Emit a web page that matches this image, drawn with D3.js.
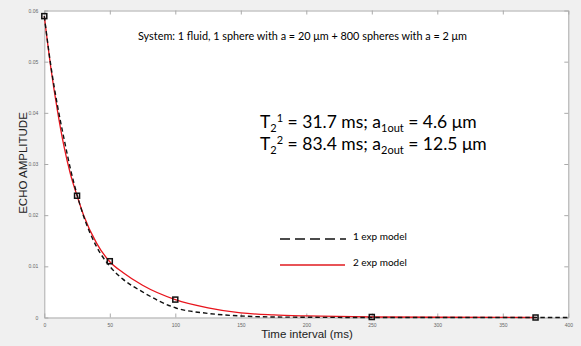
<!DOCTYPE html>
<html>
<head>
<meta charset="utf-8">
<script src="https://cdn.jsdelivr.net/npm/d3@7"></script>
<style>
  body { margin: 0; background: #f0f0f0; }
  svg { display: block; }
  .tick text { font-family: "Liberation Sans", Arial, sans-serif; font-size: 5px; fill: #666; }
  .tick line { stroke: #aaa; }
  .domain { stroke: #aaa; }
</style>
</head>
<body>
<svg id="chart" width="581" height="346"></svg>
<script>
// measured echo amplitudes
var sampleTimes = [0, 25, 50, 100, 250, 375];
var sampleAmps = [0.0589, 0.0238, 0.0110, 0.0035, 0.0001, 0.0000];

// 1 exp model curve
var oneExpTimes = [0, 5, 10, 15, 20, 25, 30, 40, 50, 60, 75, 100, 125, 150, 175, 200, 250, 300, 400];
var oneExpAmps = [0.0589, 0.0492, 0.0415, 0.0350, 0.0290, 0.0240, 0.0198, 0.0138, 0.0100, 0.0075, 0.0050, 0.0019, 0.0008, 0.0003, 0.0001, 0.00005, 0.0000, 0.0000, 0.0000];

// 2 exp model curve
var twoExpTimes = [0, 5, 10, 15, 20, 25, 30, 40, 50, 60, 75, 100, 125, 150, 175, 200, 250, 300, 375];
var twoExpAmps = [0.0589, 0.0488, 0.0405, 0.0335, 0.0280, 0.0238, 0.0200, 0.0145, 0.0109, 0.0088, 0.0063, 0.0035, 0.0019, 0.0009, 0.0005, 0.0003, 0.0001, 0.00005, 0.0000];

var xTicks = [0, 50, 100, 150, 200, 250, 300, 350, 400];
var yTicks = [0, 0.01, 0.02, 0.03, 0.04, 0.05, 0.06];
var yTickLabels = ["0", "0.01", "0.02", "0.03", "0.04", "0.05", "0.06"];

var svg = d3.select("#chart");
var plotLeft = 44.3, plotRight = 568.3, plotTop = 10.5, plotBottom = 317.5;

var x = d3.scaleLinear().domain([0, 400]).range([plotLeft, plotRight]);
var y = d3.scaleLinear().domain([0, 0.06]).range([plotBottom, plotTop]);

// white plot area
svg.append("rect")
    .attr("x", plotLeft).attr("y", plotTop)
    .attr("width", plotRight - plotLeft).attr("height", plotBottom - plotTop)
    .attr("fill", "#fff");

// axes with inward ticks on all four sides
svg.append("g").attr("transform", "translate(" + plotLeft + ",0)")
    .call(d3.axisLeft(y).tickValues(yTicks).tickFormat(function(d, i) { return yTickLabels[i]; })
      .tickSizeInner(-4).tickSizeOuter(0).tickPadding(6));
svg.append("g").attr("transform", "translate(" + plotRight + ",0)")
    .call(d3.axisRight(y).tickValues(yTicks).tickFormat("").tickSizeInner(-4).tickSizeOuter(0));
svg.append("g").attr("transform", "translate(0," + plotBottom + ")")
    .call(d3.axisBottom(x).tickValues(xTicks).tickFormat(d3.format("d"))
      .tickSizeInner(-4).tickSizeOuter(0).tickPadding(6));
svg.append("g").attr("transform", "translate(0," + plotTop + ")")
    .call(d3.axisTop(x).tickValues(xTicks).tickFormat("").tickSizeInner(-4).tickSizeOuter(0));

var line = d3.line()
    .x(function(d) { return x(d[0]); })
    .y(function(d) { return y(d[1]); })
    .curve(d3.curveMonotoneX);

var redData = d3.zip(twoExpTimes, twoExpAmps);
var blackData = d3.zip(oneExpTimes, oneExpAmps);

svg.append("path").datum(redData)
    .attr("d", line)
    .attr("fill", "none")
    .attr("stroke", "#e8141c")
    .attr("stroke-width", 1.3);

svg.append("path").datum(blackData)
    .attr("d", line)
    .attr("fill", "none")
    .attr("stroke", "#111")
    .attr("stroke-width", 1.4)
    .attr("stroke-dasharray", "4.5,3");

// sample squares
svg.selectAll(".pt").data(d3.zip(sampleTimes, sampleAmps)).enter()
  .append("rect")
    .attr("class", "pt")
    .attr("x", function(d) { return x(d[0]) - 2.5; })
    .attr("y", function(d) { return y(d[1]) - 2.5; })
    .attr("width", 5).attr("height", 5)
    .attr("fill", "none")
    .attr("stroke", "#111")
    .attr("stroke-width", 1.5);

// title
svg.append("text")
    .attr("x", 138).attr("y", 40)
    .attr("font-family", "Lato, 'Open Sans', sans-serif")
    .attr("font-size", 11.5)
    .attr("textLength", 329).attr("lengthAdjust", "spacingAndGlyphs")
    .text("System: 1 fluid, 1 sphere with a = 20 \u03bcm +  800 spheres with a = 2 \u03bcm");

// fit results
var res1 = svg.append("text")
    .attr("x", 260).attr("y", 128)
    .attr("font-family", "Lato, 'Open Sans', sans-serif")
    .attr("font-size", 17.5);
res1.append("tspan").text("T");
res1.append("tspan").attr("font-size", 11).attr("dy", 4).text("2");
res1.append("tspan").attr("font-size", 11).attr("dy", -10).text("1");
res1.append("tspan").attr("dy", 6).text(" = 31.7 ms; a");
res1.append("tspan").attr("font-size", 11).attr("dy", 4).text("1out");
res1.append("tspan").attr("dy", -4).text(" = 4.6 \u03bcm");

var res2 = svg.append("text")
    .attr("x", 260).attr("y", 150)
    .attr("font-family", "Lato, 'Open Sans', sans-serif")
    .attr("font-size", 17.5);
res2.append("tspan").text("T");
res2.append("tspan").attr("font-size", 11).attr("dy", 4).text("2");
res2.append("tspan").attr("font-size", 11).attr("dy", -10).text("2");
res2.append("tspan").attr("dy", 6).text(" = 83.4 ms; a");
res2.append("tspan").attr("font-size", 11).attr("dy", 4).text("2out");
res2.append("tspan").attr("dy", -4).text(" = 12.5 \u03bcm");

// legend
svg.append("line")
    .attr("x1", 280).attr("x2", 346).attr("y1", 239).attr("y2", 239)
    .attr("stroke", "#111").attr("stroke-width", 1.6)
    .attr("stroke-dasharray", "10,5");
svg.append("text").attr("x", 353).attr("y", 240)
    .attr("font-family", "Lato, 'Open Sans', sans-serif").attr("font-size", 10)
    .text("1 exp model");
svg.append("line")
    .attr("x1", 280).attr("x2", 345).attr("y1", 265).attr("y2", 265)
    .attr("stroke", "#e01a1f").attr("stroke-width", 1.3);
svg.append("text").attr("x", 353).attr("y", 266)
    .attr("font-family", "Lato, 'Open Sans', sans-serif").attr("font-size", 10)
    .text("2 exp model");

// axis titles
svg.append("text")
    .attr("x", 307).attr("y", 338)
    .attr("text-anchor", "middle")
    .attr("font-family", "'Liberation Sans', Arial, sans-serif")
    .attr("font-size", 11.5).attr("fill", "#222")
    .text("Time interval (ms)");
svg.append("text")
    .attr("transform", "translate(27,163) rotate(-90)")
    .attr("text-anchor", "middle")
    .attr("font-family", "'Liberation Sans', Arial, sans-serif")
    .attr("font-size", 11.5).attr("fill", "#222")
    .text("ECHO AMPLITUDE");
</script>
</body>
</html>
